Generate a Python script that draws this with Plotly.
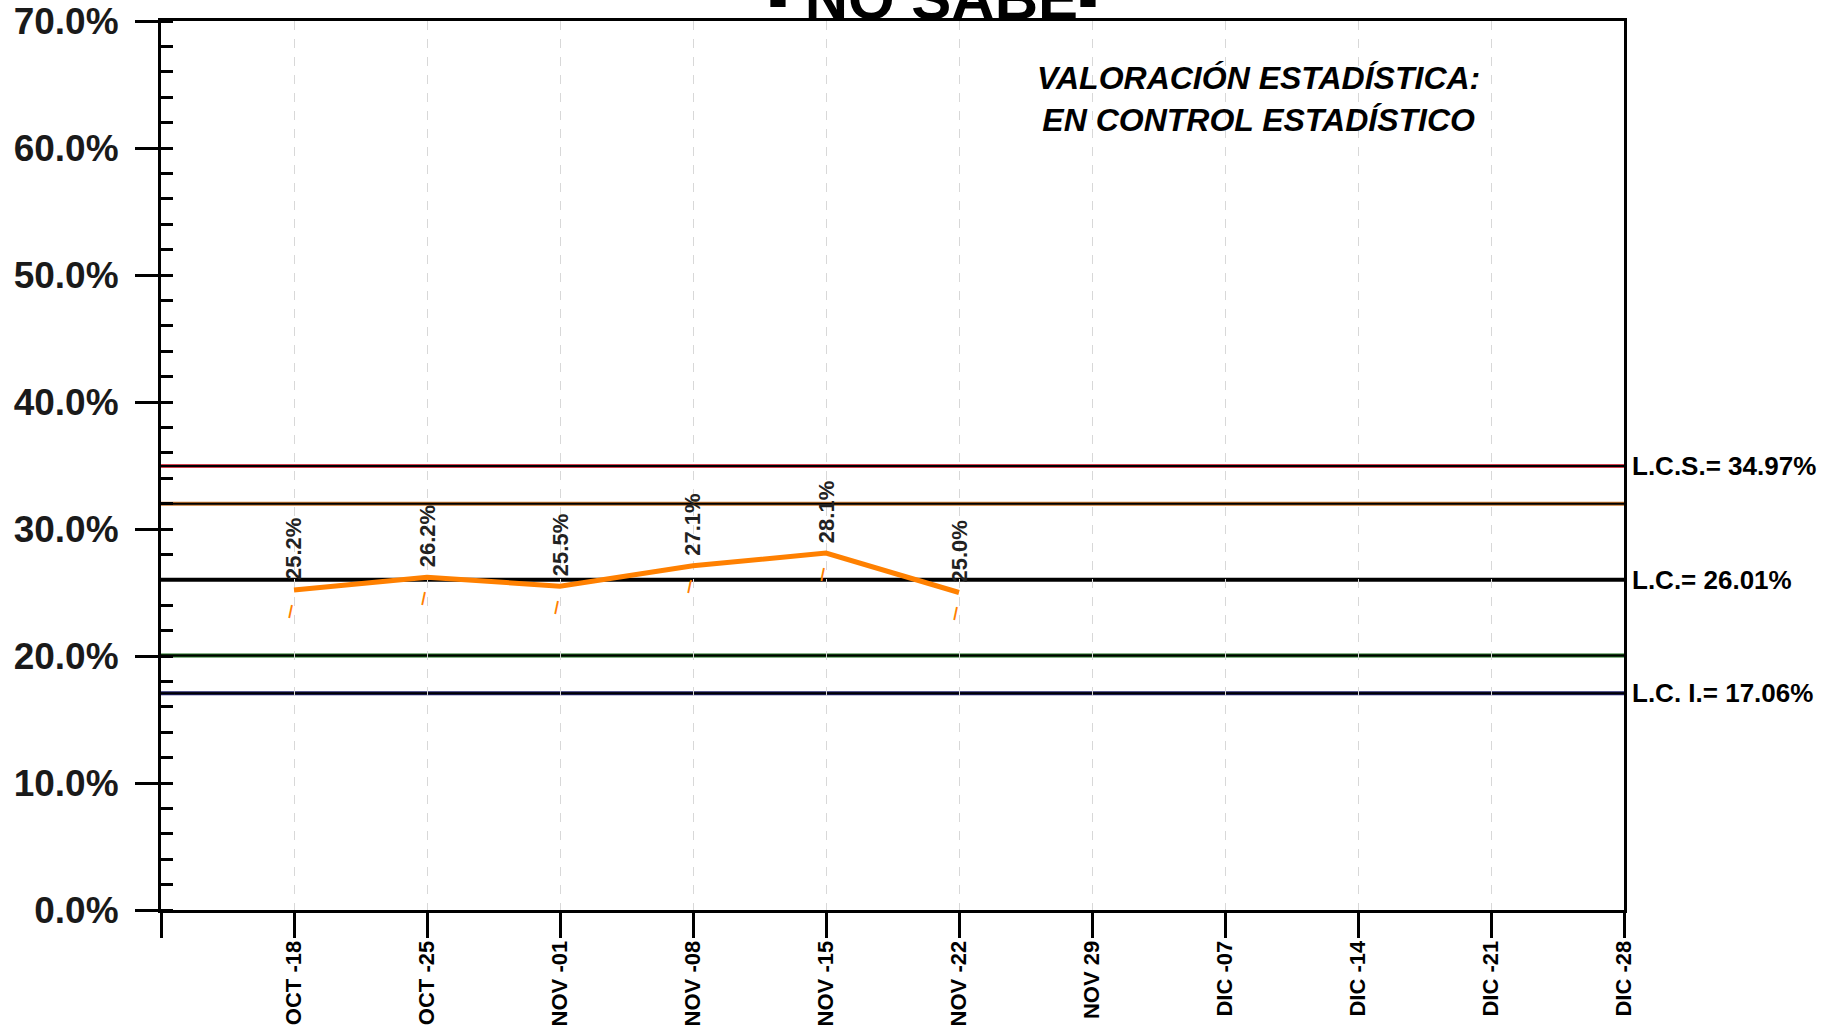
import plotly.graph_objects as go

# ---- data ----
categories = ["", "OCT -18", "OCT -25", "NOV -01", "NOV -08", "NOV -15", "NOV -22",
              "NOV 29", "DIC -07", "DIC -14", "DIC -21", "DIC -28"]
weeks = ["OCT -18", "OCT -25", "NOV -01", "NOV -08", "NOV -15", "NOV -22"]
values = [25.2, 26.2, 25.5, 27.1, 28.1, 25.0]

limit_names = ["L.C.S.", "2S+", "L.C.", "2S-", "L.C. I."]
limit_values = [34.97, 31.98, 26.01, 20.04, 17.06]
limit_labels = ["L.C.S.= 34.97%", "", "L.C.= 26.01%", "", "L.C. I.= 17.06%"]
limit_edge_colors = ["#d04050", "#c87830", "#000000", "#1a6a1a", "#20206a"]

title_text = "- NO SABE-"
note_text = "<b><i>VALORACIÓN ESTADÍSTICA:<br>EN CONTROL ESTADÍSTICO</i></b>"

FONT = "Liberation Sans, Arial, sans-serif"
ORANGE = "#ff8000"

xpos = [categories.index(w) for w in weeks]

fig = go.Figure()

# control limit lines
shapes = []
for v, c in zip(limit_values, limit_edge_colors):
    shapes.append(dict(type="line", xref="paper", x0=0, x1=1, yref="y", y0=v, y1=v,
                       line=dict(color=c, width=4), layer="below"))
    shapes.append(dict(type="line", xref="paper", x0=0, x1=1, yref="y", y0=v, y1=v,
                       line=dict(color="#000000", width=2), layer="below"))

fig.add_trace(go.Scatter(x=xpos, y=values, mode="lines",
                         line=dict(color=ORANGE, width=5), hoverinfo="skip",
                         showlegend=False))

annotations = []
for x, v in zip(xpos, values):
    annotations.append(dict(x=x, y=v, xref="x", yref="y", text=f"<b>{v:.1f}%</b>",
                            textangle=-90, showarrow=False, xanchor="center",
                            yanchor="bottom", yshift=8,
                            font=dict(family=FONT, size=22, color="#222")))
    # small orange dash under each point
    annotations.append(dict(x=x, y=v, xref="x", yref="y", text="<b>|</b>",
                            showarrow=False, xanchor="center", yanchor="top",
                            yshift=-9, xshift=-3, textangle=12,
                            font=dict(family=FONT, size=14, color=ORANGE)))

for v, lab in zip(limit_values, limit_labels):
    if lab:
        annotations.append(dict(x=1, y=v, xref="paper", yref="y", text=f"<b>{lab}</b>",
                                showarrow=False, xanchor="left", yanchor="middle",
                                xshift=6, font=dict(family=FONT, size=26, color="#000")))

annotations.append(dict(x=0.528, y=1, xref="paper", yref="paper",
                        text=f"<b>{title_text}</b>", showarrow=False,
                        xanchor="center", yanchor="bottom", yshift=-13,
                        font=dict(family=FONT, size=60, color="#000")))
annotations.append(dict(x=0.75, y=0.912, xref="paper", yref="paper", text=note_text,
                        showarrow=False, xanchor="center", yanchor="middle",
                        font=dict(family=FONT, size=32, color="#000")))

fig.update_layout(
    width=1843, height=1026,
    margin=dict(l=161, r=219, t=21, b=116),
    paper_bgcolor="white", plot_bgcolor="white",
    shapes=shapes, annotations=annotations,
    showlegend=False,
)

fig.update_xaxes(
    range=[0, len(categories) - 1], automargin=False,
    tickmode="array", tickvals=list(range(len(categories))), ticktext=categories,
    tickangle=-90, ticks="outside", ticklen=25, tickwidth=3, tickcolor="#000",
    ticklabelstandoff=-6, ticklabeloverflow="allow",
    showline=True, linecolor="#000", linewidth=3, mirror=True,
    showgrid=True, gridcolor="#d8d8d8", gridwidth=1, griddash="dash",
    zeroline=False,
    tickfont=dict(family=FONT, size=22, color="#000", weight="bold"),
)

fig.update_yaxes(
    range=[0, 70], dtick=10, tickformat=".1f", ticksuffix="%", automargin=False,
    ticks="outside", ticklen=23, tickwidth=3, tickcolor="#000",
    ticklabelstandoff=9, ticklabeloverflow="allow",
    minor=dict(ticks="inside", dtick=2, ticklen=12, tickwidth=3, tickcolor="#000",
               showgrid=False),
    showline=True, linecolor="#000", linewidth=3, mirror=True,
    showgrid=False, zeroline=False,
    tickfont=dict(family=FONT, size=37, color="#1a1a1a", weight="bold"),
)

fig.write_html("out.html", config={"displayModeBar": False},
               post_script="document.body.style.margin='0px';")
